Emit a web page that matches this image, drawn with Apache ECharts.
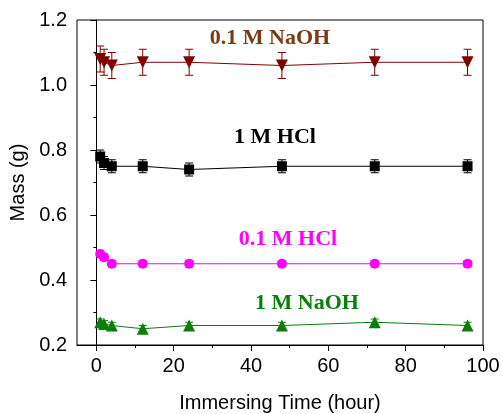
<!DOCTYPE html>
<html><head><meta charset="utf-8">
<script src="https://cdn.jsdelivr.net/npm/echarts@6/dist/echarts.min.js"></script>
<style>html,body{margin:0;padding:0;background:#fff}#c{width:503px;height:414px}</style>
</head><body><div id="c"></div>
<script>
const times = [1, 2, 4, 12, 24, 48, 72, 96];
const naoh01 = [1.08, 1.07, 1.06, 1.07, 1.07, 1.06, 1.07, 1.07];
const naoh01Err = [0.04, 0.04, 0.04, 0.04, 0.04, 0.04, 0.04, 0.04];
const hcl1 = [0.78, 0.76, 0.75, 0.75, 0.74, 0.75, 0.75, 0.75];
const hcl1Err = [0.02, 0.02, 0.02, 0.02, 0.02, 0.02, 0.02, 0.02];
const hcl01 = [0.48, 0.47, 0.45, 0.45, 0.45, 0.45, 0.45, 0.45];
const hcl01Err = [0.01, 0.01, 0.01, 0.01, 0.01, 0.01, 0.01, 0.01];
const naoh1 = [0.27, 0.265, 0.26, 0.25, 0.26, 0.26, 0.27, 0.26];
const naoh1Err = [0.01, 0.01, 0.01, 0.01, 0.01, 0.01, 0.01, 0.01];
const xMajorTicks = [0, 20, 40, 60, 80, 100];
const xMinorTicks = [10, 30, 50, 70, 90];
const seriesNames = ['0.1 M NaOH', '1 M HCl', '0.1 M HCl', '1 M NaOH'];

const chart = echarts.init(document.getElementById('c'));
const pts = arr => times.map((t, i) => [t, arr[i]]);
const errs = (arr, e) => times.map((t, i) => [t, arr[i] - e[i], arr[i] + e[i]]);
function errSeries(data, color) {
  return {
    type: 'custom', data: data, z: 1, silent: true,
    renderItem: function (params, api) {
      const x = api.value(0);
      const lo = api.coord([x, api.value(1)]);
      const hi = api.coord([x, api.value(2)]);
      const w = 4;
      const st = { stroke: color, lineWidth: 1 };
      return { type: 'group', children: [
        { type: 'line', shape: { x1: lo[0], y1: lo[1], x2: hi[0], y2: hi[1] }, style: st },
        { type: 'line', shape: { x1: lo[0] - w, y1: lo[1], x2: lo[0] + w, y2: lo[1] }, style: st },
        { type: 'line', shape: { x1: hi[0] - w, y1: hi[1], x2: hi[0] + w, y2: hi[1] }, style: st }
      ]};
    }
  };
}
function lineSeries(name, data, color, symbol, size, rot) {
  return { name: name, type: 'line', data: data, symbol: symbol, symbolSize: size, symbolRotate: rot || 0,
    lineStyle: { color: color, width: 1 }, itemStyle: { color: color }, z: 3, animation: false };
}
const txt = (t, x, y, color) => ({ type: 'text', x: x, y: y,
  style: { text: t, fill: color, font: 'bold 22px "Liberation Serif", "Times New Roman", serif',
    textAlign: 'center', textVerticalAlign: 'middle' } });
const sans = 'Liberation Sans, Arial';

chart.setOption({
  animation: false,
  grid: { left: 77, right: 20, top: 20, bottom: 69, show: true, borderColor: '#000', borderWidth: 1,
    containLabel: false, outerBoundsMode: 'none' },
  xAxis: [{
    type: 'value', min: -5, max: 100,
    name: 'Immersing Time (hour)', nameLocation: 'middle', nameGap: 48,
    nameTextStyle: { fontFamily: sans, fontSize: 20, color: '#000' },
    axisLine: { lineStyle: { color: '#000' } },
    axisTick: { customValues: xMajorTicks, length: 6, lineStyle: { color: '#000' } },
    axisLabel: { customValues: xMajorTicks, fontFamily: sans, fontSize: 20, color: '#000', margin: 11 },
    splitLine: { show: false }
  }, {
    type: 'value', min: -5, max: 100, position: 'bottom',
    axisLine: { show: false },
    axisTick: { customValues: xMinorTicks, length: 3, lineStyle: { color: '#000' } },
    axisLabel: { show: false }, splitLine: { show: false }
  }],
  yAxis: {
    type: 'value', min: 0.2, max: 1.2, interval: 0.2,
    name: 'Mass (g)', nameLocation: 'middle', nameGap: 46,
    nameTextStyle: { fontFamily: sans, fontSize: 20, color: '#000' },
    axisLine: { show: true, lineStyle: { color: '#000' } },
    axisTick: { show: true, length: 6, lineStyle: { color: '#000' } },
    minorTick: { show: true, splitNumber: 2, length: 3, lineStyle: { color: '#000' } },
    axisLabel: { fontFamily: sans, fontSize: 20, color: '#000', margin: 10,
      formatter: v => v.toFixed(1) },
    splitLine: { show: false }
  },
  series: [
    errSeries(errs(naoh01, naoh01Err), '#800000'),
    errSeries(errs(hcl1, hcl1Err), '#000000'),
    errSeries(errs(hcl01, hcl01Err), '#ff00ff'),
    errSeries(errs(naoh1, naoh1Err), '#0a7d0a'),
    lineSeries(seriesNames[0], pts(naoh01), '#800000', 'triangle', 12, 180),
    lineSeries(seriesNames[1], pts(hcl1), '#000000', 'rect', 10),
    lineSeries(seriesNames[2], pts(hcl01), '#ff00ff', 'circle', 10),
    lineSeries(seriesNames[3], pts(naoh1), '#0a7d0a', 'triangle', 12)
  ],
  graphic: [
    txt(seriesNames[0], 270, 38, '#7b3a12'),
    txt(seriesNames[1], 275, 137, '#000000'),
    txt(seriesNames[2], 288, 239, '#ff00ff'),
    txt(seriesNames[3], 307, 303, '#0a7d0a')
  ]
});
</script></body></html>
